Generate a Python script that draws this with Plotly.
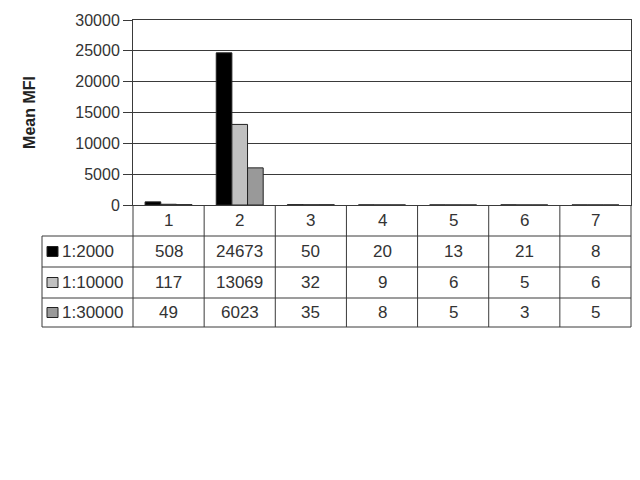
import plotly.graph_objects as go

categories = ["1", "2", "3", "4", "5", "6", "7"]
series_names = ["1:2000", "1:10000", "1:30000"]
dil_2000 = [508, 24673, 50, 20, 13, 21, 8]
dil_10000 = [117, 13069, 32, 9, 6, 5, 6]
dil_30000 = [49, 6023, 35, 8, 5, 3, 5]
y_ticks = [0, 5000, 10000, 15000, 20000, 25000, 30000]

COLORS = ["#000000", "#c0c0c0", "#999999"]
LINE = "#3a3a3a"
TXT = "#333333"
FONT = "Liberation Sans, Arial, sans-serif"
FS = 16
CELL_FS = 17

# page body has an 8px margin, so the figure is shifted by 8px
W, H = 624, 440
M = dict(l=125, r=1, t=12, b=243)
plot_h = H - M["t"] - M["b"]
plot_w = W - M["l"] - M["r"]
row_heights = [31, 31, 31, 29]
label_px = 91  # width of the row-label column, px


def py(px_below):
    """paper y for a distance in px below the plot bottom"""
    return -px_below / plot_h


fig = go.Figure()
for name, vals, col in zip(series_names, [dil_2000, dil_10000, dil_30000], COLORS):
    fig.add_trace(go.Bar(
        x=categories, y=vals, name=name,
        marker=dict(color=col, line=dict(color="#222222", width=1)),
    ))

shapes = []
annotations = []
edges = [0]
for h in row_heights:
    edges.append(edges[-1] + h)
bottom = py(edges[-1])
left = -label_px / plot_w
cell_font = dict(size=CELL_FS, color=TXT, family=FONT)

# horizontal table lines
for e in edges[1:]:
    shapes.append(dict(type="line", xref="paper", yref="paper", x0=left, x1=1,
                       y0=py(e), y1=py(e), line=dict(color=LINE, width=1)))
# vertical table lines at category boundaries
for i in range(len(categories) + 1):
    shapes.append(dict(type="line", xref="paper", yref="paper",
                       x0=i / len(categories), x1=i / len(categories),
                       y0=0, y1=bottom, line=dict(color=LINE, width=1)))
# left edge of label column
shapes.append(dict(type="line", xref="paper", yref="paper", x0=left, x1=left,
                   y0=py(edges[1]), y1=bottom, line=dict(color=LINE, width=1)))

# header row with category names
yc0 = py((edges[0] + edges[1]) / 2)
for i, c in enumerate(categories):
    annotations.append(dict(x=i, y=yc0, xref="x", yref="paper",
                            text=c, showarrow=False, yanchor="middle",
                            font=cell_font))

# data rows
for r, (name, vals, col) in enumerate(zip(series_names, [dil_2000, dil_10000, dil_30000], COLORS), start=1):
    yc = py((edges[r] + edges[r + 1]) / 2)
    sq = 5 / plot_h
    shapes.append(dict(type="rect", xref="paper", yref="paper",
                       x0=left + 5 / plot_w, x1=left + 16 / plot_w,
                       y0=yc - sq, y1=yc + sq, fillcolor=col,
                       line=dict(color="#222222", width=1)))
    annotations.append(dict(x=left + 18 / plot_w, y=yc, xref="paper", yref="paper",
                            text=name, showarrow=False, xanchor="left", yanchor="middle",
                            font=cell_font))
    for i, v in enumerate(vals):
        annotations.append(dict(x=i, y=yc, xref="x", yref="paper",
                                text=str(v), showarrow=False, yanchor="middle",
                                font=cell_font))

fig.update_layout(
    width=W, height=H,
    margin=M,
    paper_bgcolor="white", plot_bgcolor="white",
    barmode="group", bargap=0.34, bargroupgap=0,
    showlegend=False,
    font=dict(family=FONT, size=FS, color=TXT),
    shapes=shapes, annotations=annotations,
)
fig.update_xaxes(type="category", showticklabels=False, ticks="", showgrid=False,
                 showline=True, linecolor=LINE, mirror=True, automargin=False,
                 range=[-0.5, len(categories) - 0.5])
fig.update_yaxes(range=[0, 30000], tickvals=y_ticks, tickformat="d",
                 gridcolor=LINE, gridwidth=1,
                 showline=True, linecolor=LINE, mirror=True, zeroline=False,
                 ticks="outside", ticklen=9, tickcolor=LINE, automargin=False,
                 tickfont=dict(size=FS, color=TXT),
                 title=dict(text="<b>Mean MFI</b>", font=dict(size=FS, color="#222222"),
                            standoff=35))

fig.write_html("out.html")
